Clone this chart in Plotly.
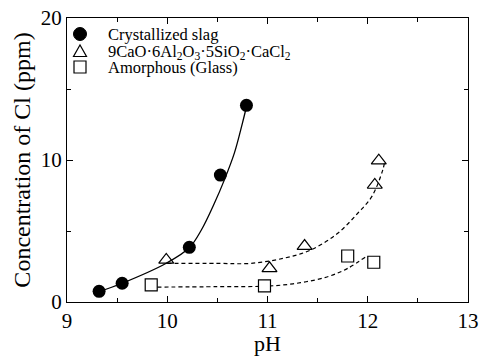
import plotly.graph_objects as go

# Measured points
ph_cryst = [9.32, 9.55, 10.22, 10.53, 10.79]
cl_cryst = [0.75, 1.32, 3.85, 8.94, 13.85]

ph_tri = [9.99, 11.02, 11.37, 12.07, 12.11]
cl_tri = [2.96, 2.37, 3.94, 8.24, 9.95]

ph_sq = [9.84, 10.97, 11.80, 12.06]
cl_sq = [1.20, 1.13, 3.24, 2.80]

# Curves
ph_cryst_curve = [9.32, 9.55, 9.99, 10.22, 10.34, 10.47, 10.57, 10.67, 10.75, 10.79]
cl_cryst_curve = [0.73, 1.32, 2.73, 3.82, 5.07, 6.95, 8.6, 10.5, 12.6, 13.75]

ph_tri_curve = [10.0, 10.5, 10.83, 11.16, 11.43, 11.7, 11.9, 12.04, 12.15, 12.17]
cl_tri_curve = [2.72, 2.72, 2.72, 3.08, 3.66, 4.84, 6.25, 7.42, 9.3, 9.95]

ph_sq_curve = [9.9, 10.5, 11.03, 11.33, 11.6, 11.8, 11.99]
cl_sq_curve = [1.05, 1.08, 1.13, 1.36, 1.78, 2.37, 3.24]

names = ["Crystallized slag",
         "9CaO·6Al<sub>2</sub>O<sub>3</sub>·5SiO<sub>2</sub>·CaCl<sub>2</sub>",
         "Amorphous (Glass)"]

x_ticks = [9, 10, 11, 12, 13]
y_ticks = [0, 10, 20]

FONT = "Liberation Serif"

fig = go.Figure()

fig.add_trace(go.Scatter(x=ph_cryst_curve, y=cl_cryst_curve, mode="lines",
                         line=dict(color="black", width=1.3, shape="spline"),
                         showlegend=False, hoverinfo="skip"))
fig.add_trace(go.Scatter(x=ph_tri_curve, y=cl_tri_curve, mode="lines",
                         line=dict(color="black", width=1.2, dash="4px,3px", shape="spline"),
                         showlegend=False, hoverinfo="skip"))
fig.add_trace(go.Scatter(x=ph_sq_curve, y=cl_sq_curve, mode="lines",
                         line=dict(color="black", width=1.2, dash="4px,3px", shape="spline"),
                         showlegend=False, hoverinfo="skip"))

fig.add_trace(go.Scatter(x=ph_cryst, y=cl_cryst, mode="markers", name=names[0],
                         marker=dict(symbol="circle", size=13, color="black"), showlegend=False))
fig.add_trace(go.Scatter(x=ph_tri, y=cl_tri, mode="markers", name=names[1],
                         marker=dict(symbol="triangle-up-open", size=13, color="black",
                                     line=dict(width=1.2, color="black")), showlegend=False))
fig.add_trace(go.Scatter(x=ph_sq, y=cl_sq, mode="markers", name=names[2],
                         marker=dict(symbol="square", size=12, color="white",
                                     line=dict(width=1.2, color="black")), showlegend=False))

axis_common = dict(showline=True, linecolor="black", linewidth=1.2, mirror="ticks",
                   ticks="inside", ticklen=6, tickwidth=1, tickcolor="black",
                   showgrid=False, zeroline=False, automargin=False,
                   tickfont=dict(family=FONT, size=21, color="black"))

fig.update_xaxes(range=[9, 13], tickvals=x_ticks, ticktext=[str(v) for v in x_ticks],
                 minor=dict(dtick=0.5, ticks="inside", ticklen=4, tickcolor="black", tick0=9),
                 title=dict(text="pH", font=dict(family=FONT, size=22, color="black"), standoff=2),
                 **axis_common)
fig.update_yaxes(range=[0, 20], tickvals=y_ticks, ticktext=[str(v) for v in y_ticks],
                 minor=dict(dtick=5, ticks="inside", ticklen=4, tickcolor="black", tick0=0),
                 title=dict(text="Concentration of Cl (ppm)", font=dict(family=FONT, size=24, color="black"),
                            standoff=3),
                 **axis_common)

# Custom legend (key glyphs as pixel-sized shapes, labels as annotations)
L, R, T, B = 67, 468, 18, 302
def px(xp):
    return (xp - L) / (R - L)
def py(yp):
    return 1 - (yp - T) / (B - T)

key_x = px(80)
rows_y = [py(34), py(51.5), py(67)]
text_x = px(106)

fig.add_shape(type="circle", xref="paper", yref="paper", xsizemode="pixel", ysizemode="pixel",
              xanchor=key_x, yanchor=rows_y[0], x0=-6.5, x1=6.5, y0=-6.5, y1=6.5,
              fillcolor="black", line=dict(color="black", width=1))
fig.add_shape(type="path", xref="paper", yref="paper", xsizemode="pixel", ysizemode="pixel",
              xanchor=key_x, yanchor=rows_y[1], path="M -6.5 -5 L 6.5 -5 L 0 6.5 Z",
              fillcolor="white", line=dict(color="black", width=1.2))
fig.add_shape(type="rect", xref="paper", yref="paper", xsizemode="pixel", ysizemode="pixel",
              xanchor=key_x, yanchor=rows_y[2], x0=-6, x1=6, y0=-6, y1=6,
              fillcolor="white", line=dict(color="black", width=1.2))

for name, yy in zip(names, rows_y):
    fig.add_annotation(x=text_x, y=yy, xref="paper", yref="paper", text=name,
                       showarrow=False, xanchor="left", yanchor="middle",
                       font=dict(family=FONT, size=16.5, color="black"))

fig.update_layout(
    width=487, height=356,
    margin=dict(l=L, r=487 - R, t=T, b=356 - B),
    plot_bgcolor="white", paper_bgcolor="white",
    font=dict(family=FONT, color="black"),
    showlegend=False,
)

fig.write_html("out.html")
